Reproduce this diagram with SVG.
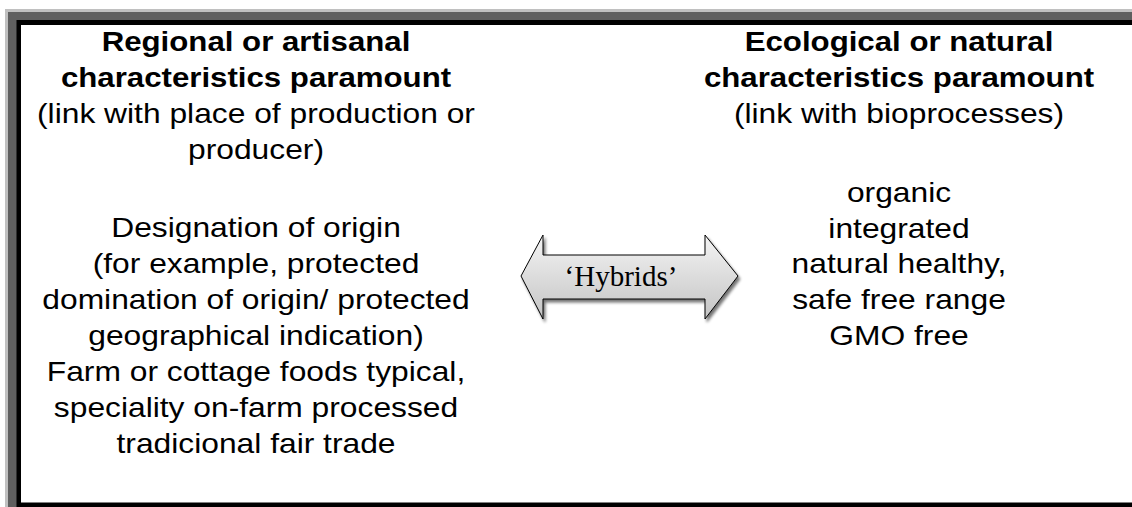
<svg xmlns="http://www.w3.org/2000/svg" width="1132" height="507" viewBox="0 0 1132 507">
  <style>
    .title { font-family: "Liberation Sans", Arial, sans-serif; font-size: 27.5px; font-weight: bold; fill: #000; text-anchor: middle; }
    .body { font-family: "Liberation Sans", Arial, sans-serif; font-size: 28px; fill: #000; text-anchor: middle; }
    .label { font-family: "Liberation Serif", "Times New Roman", serif; font-size: 29px; fill: #000; text-anchor: middle; }
  </style>
  <defs>
    <linearGradient id="arrowFill" x1="0" y1="0" x2="0" y2="1">
      <stop offset="0" stop-color="#f4f4f4"/>
      <stop offset="0.5" stop-color="#dcdcdc"/>
      <stop offset="1" stop-color="#c4c4c4"/>
    </linearGradient>
    <filter id="shadow" x="-10%" y="-20%" width="125%" height="150%">
      <feGaussianBlur in="SourceAlpha" stdDeviation="1.5"/>
      <feOffset dx="2" dy="3" result="blur"/>
      <feComponentTransfer><feFuncA type="linear" slope="0.55"/></feComponentTransfer>
      <feMerge><feMergeNode/><feMergeNode in="SourceGraphic"/></feMerge>
    </filter>
  </defs>

  <!-- page background and bevelled frame -->
  <rect x="0" y="0" width="1132" height="507" fill="#ffffff"/>
  <g id="frame">
    <rect x="5" y="9" width="1140" height="510" fill="#c0c0c0"/>
    <rect x="8" y="12" width="1140" height="510" fill="#5f5f5f"/>
    <rect x="16.5" y="20" width="1140" height="510" fill="#000000"/>
    <rect x="21" y="25" width="1140" height="477.5" fill="#ffffff"/>
  </g>

  <!-- left column -->
  <g id="regional">
    <g transform="translate(256 0) scale(1.135 1)">
      <text class="title" x="0" y="51">Regional or artisanal</text>
      <text class="title" x="0" y="87">characteristics paramount</text>
      <text class="body" x="0" y="123">(link with place of production or</text>
      <text class="body" x="0" y="159">producer)</text>
      <text class="body" x="0" y="237">Designation of origin</text>
      <text class="body" x="0" y="273">(for example, protected</text>
      <text class="body" x="0" y="309">domination of origin/ protected</text>
      <text class="body" x="0" y="345">geographical indication)</text>
      <text class="body" x="0" y="381">Farm or cottage foods typical,</text>
      <text class="body" x="0" y="417">speciality on-farm processed</text>
      <text class="body" x="0" y="453">tradicional fair trade</text>
    </g>
  </g>

  <!-- right column -->
  <g id="ecological">
    <g transform="translate(899 0) scale(1.135 1)">
      <text class="title" x="0" y="51">Ecological or natural</text>
      <text class="title" x="0" y="87">characteristics paramount</text>
      <text class="body" x="0" y="123">(link with bioprocesses)</text>
      <text class="body" x="0" y="202">organic</text>
      <text class="body" x="0" y="238">integrated</text>
      <text class="body" x="0" y="273">natural healthy,</text>
      <text class="body" x="0" y="309">safe free range</text>
      <text class="body" x="0" y="345">GMO free</text>
    </g>
  </g>

  <!-- double-headed arrow between the columns -->
  <g id="connectors">
    <g id="hybrids">
      <path d="M521,276 L543,235 L543,255 L705,255 L705,235 L738,276 L705,319 L705,299 L543,299 L543,319 Z"
            fill="url(#arrowFill)" stroke="#000" stroke-width="1" stroke-linejoin="miter" filter="url(#shadow)"/>
      <text class="label" x="621" y="286">‘Hybrids’</text>
    </g>
  </g>
</svg>
